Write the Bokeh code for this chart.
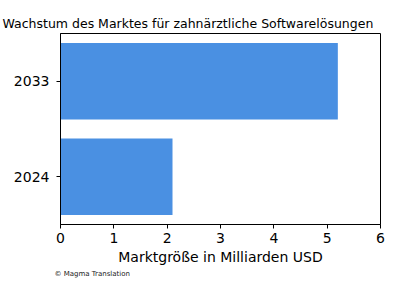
from bokeh.plotting import figure
from bokeh.models import ColumnDataSource, Range1d, FactorRange, FixedTicker, Title
from bokeh.embed import file_html
from bokeh.resources import INLINE

years = ["2024", "2033"]
market_size = [2.1, 5.2]
x_ticks = [0, 1, 2, 3, 4, 5, 6]

title_text = "Wachstum des Marktes für zahnärztliche Softwarelösungen"
x_label = "Marktgröße in Milliarden USD"
footer_text = "© Magma Translation"

src = ColumnDataSource(dict(year=years, size=market_size))

FONT = "DejaVu Sans"

p = figure(width=400, height=300, output_backend="svg", toolbar_location=None,
           y_range=FactorRange(factors=years, range_padding=0),
           x_range=Range1d(0, 6),
           min_border_left=60, min_border_right=20, min_border_top=33, min_border_bottom=76)

p.hbar(y="year", right="size", left=0, height=0.8, source=src,
       fill_color="#4a90e2", line_color=None)

p.title = Title(text=title_text, align="left", offset=-58, text_font=FONT,
                text_font_size="12.5px", text_font_style="normal", text_color="black",
                standoff=6)

p.add_layout(Title(text=footer_text, align="left", offset=-6, text_font=FONT,
                   text_font_size="7px", text_font_style="normal", text_color="#222222",
                   standoff=0), "below")

p.xgrid.visible = False
p.ygrid.visible = False
p.outline_line_color = "black"
p.outline_line_width = 1
p.outline_line_alpha = 1

p.xaxis.ticker = FixedTicker(ticks=x_ticks)
p.xaxis.axis_label = x_label
for ax in (p.xaxis, p.yaxis):
    ax.axis_line_color = "black"
    ax.major_tick_line_color = "black"
    ax.major_tick_out = 4
    ax.major_tick_in = 0
    ax.minor_tick_line_color = None
    ax.major_label_text_font = FONT
    ax.major_label_text_font_size = "14px"
    ax.major_label_text_color = "black"
    ax.axis_label_text_font = FONT
    ax.axis_label_text_font_size = "14px"
    ax.axis_label_text_font_style = "normal"
    ax.axis_label_text_color = "black"
p.xaxis.major_label_standoff = 4
p.xaxis.axis_label_standoff = 3
p.yaxis.major_label_standoff = 7

open("out.html", "w").write(file_html(p, INLINE))
